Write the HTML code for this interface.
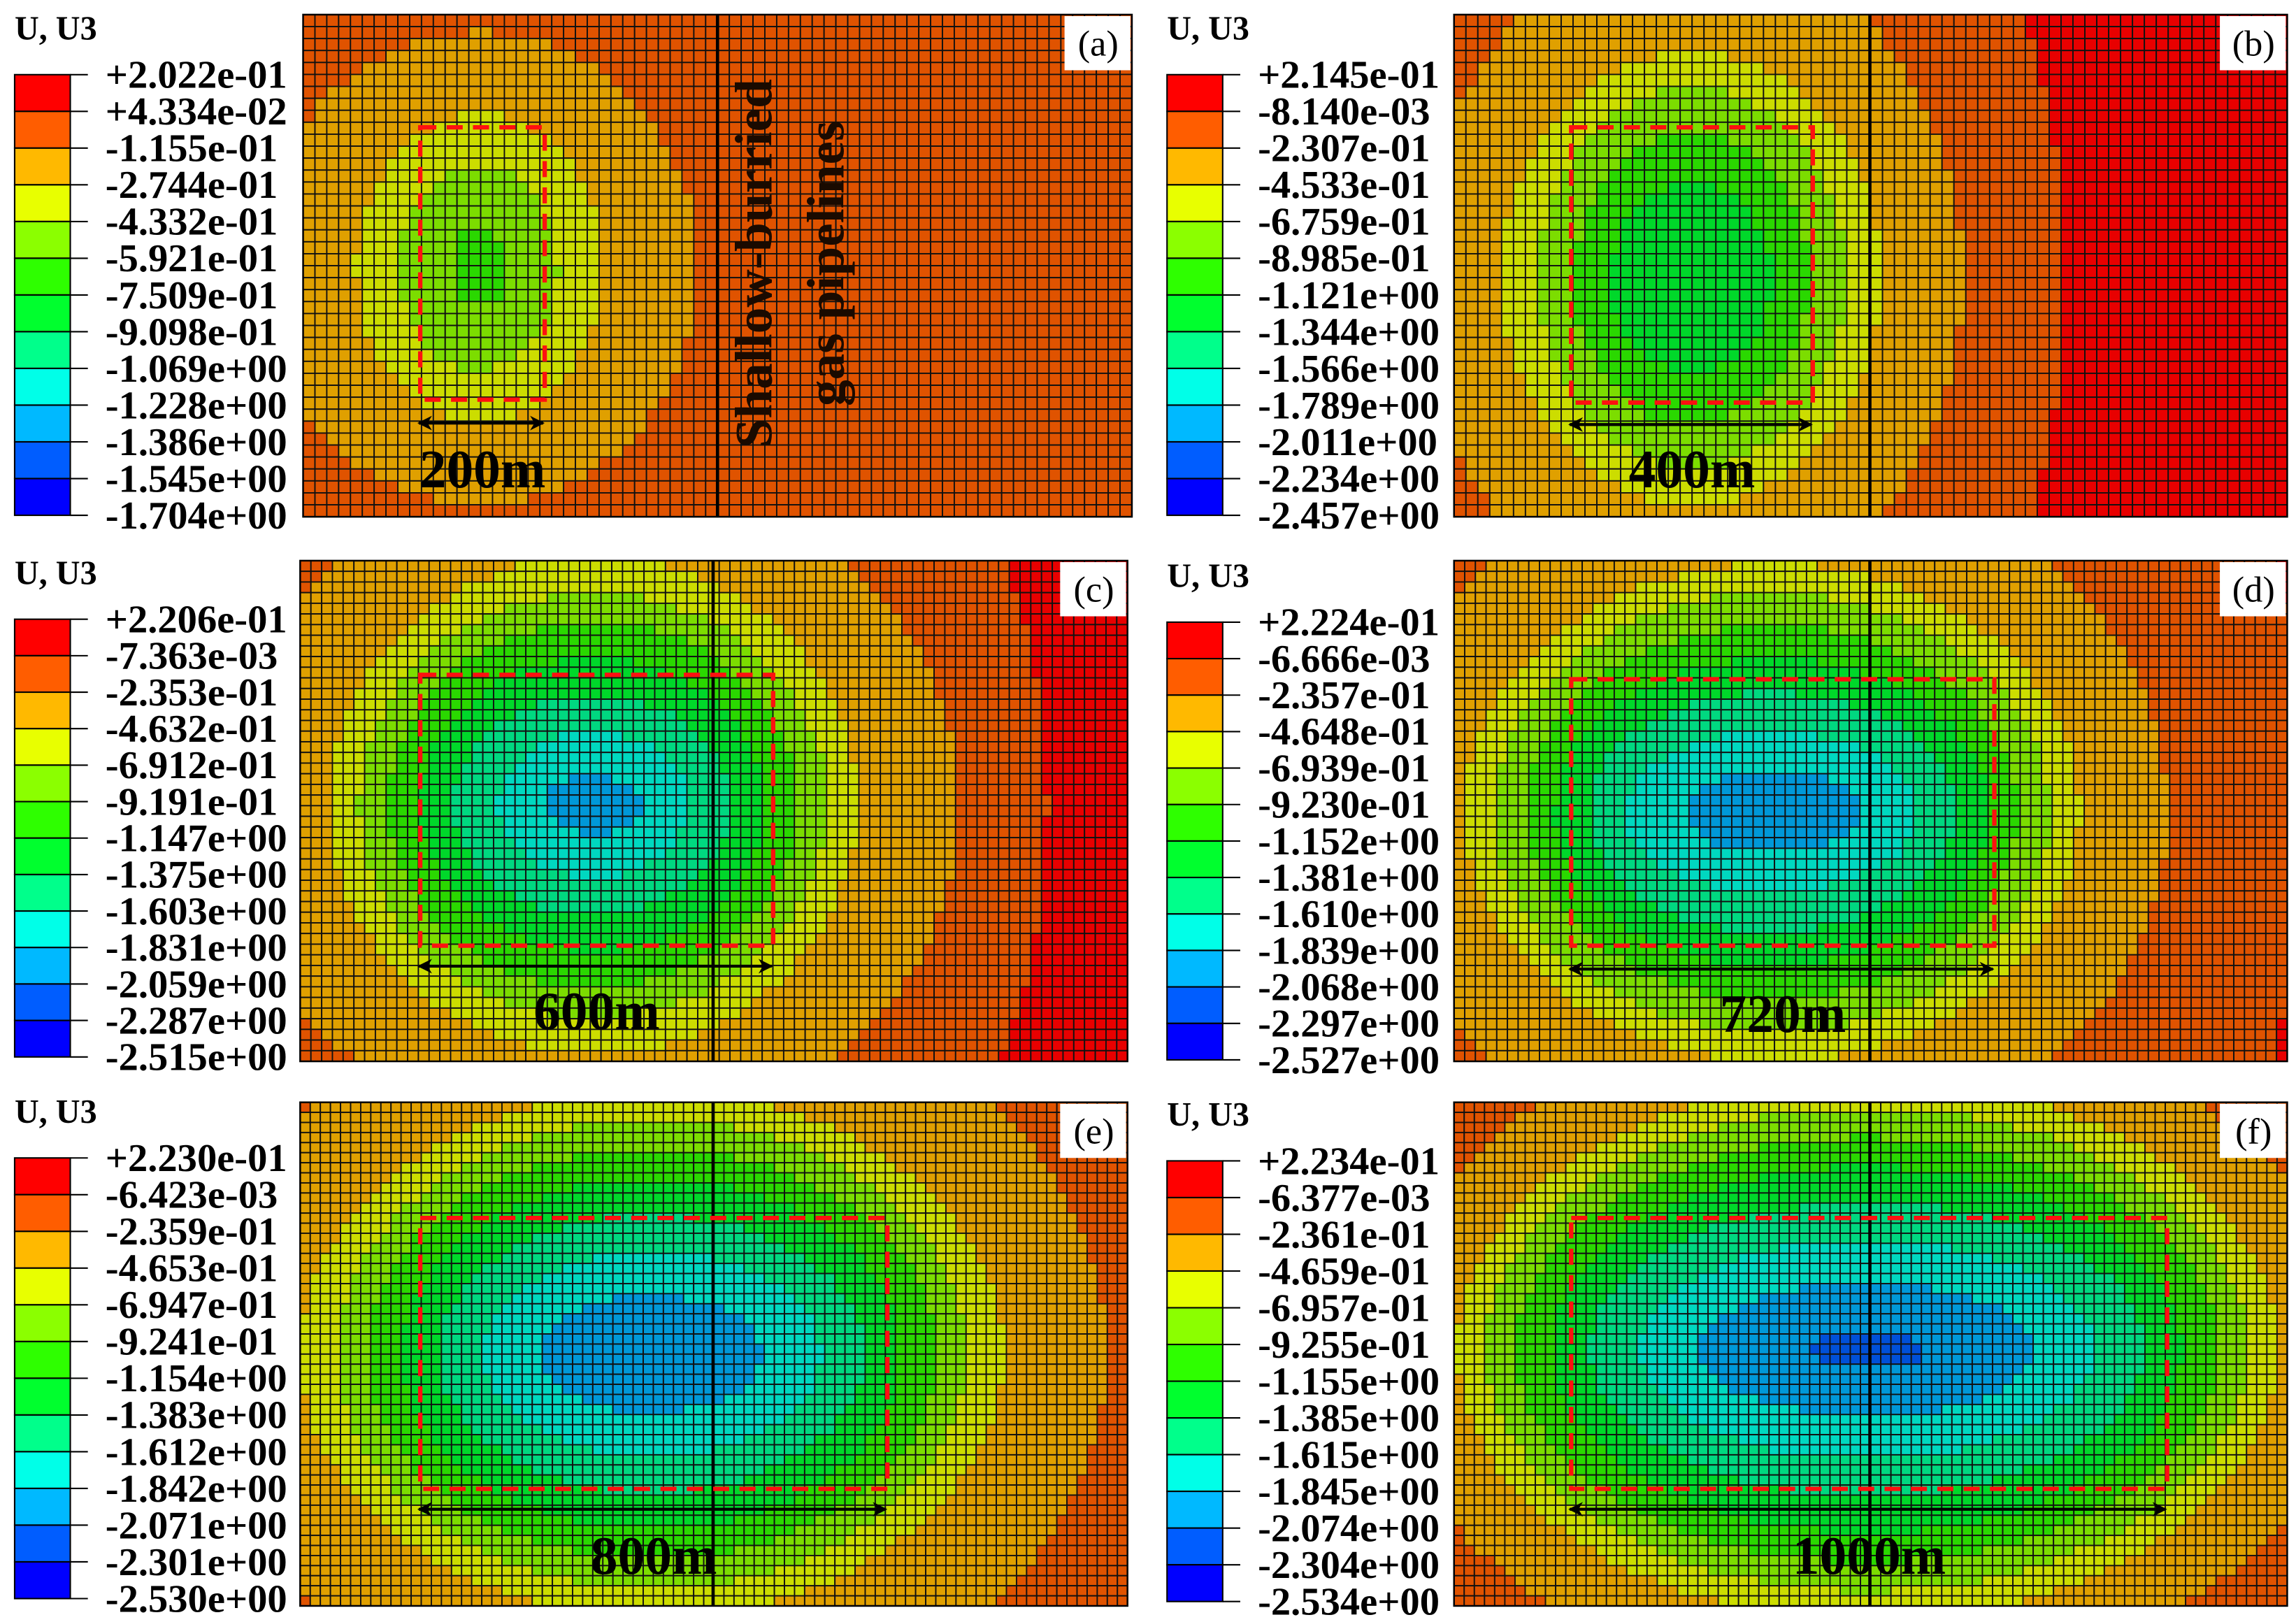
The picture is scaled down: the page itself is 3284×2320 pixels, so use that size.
<!DOCTYPE html>
<html><head><meta charset="utf-8"><style>html,body{margin:0;padding:0;background:#fff}svg{display:block}</style></head>
<body>
<svg id="fig" xmlns="http://www.w3.org/2000/svg" width="3284" height="2320" viewBox="0 0 1568 1108" preserveAspectRatio="none"></svg>
<script>
const panelIds = ['a','b','c','d','e','f'];
const legendA = ['+2.022e-01','+4.334e-02','-1.155e-01','-2.744e-01','-4.332e-01','-5.921e-01','-7.509e-01','-9.098e-01','-1.069e+00','-1.228e+00','-1.386e+00','-1.545e+00','-1.704e+00'];
const legendB = ['+2.145e-01','-8.140e-03','-2.307e-01','-4.533e-01','-6.759e-01','-8.985e-01','-1.121e+00','-1.344e+00','-1.566e+00','-1.789e+00','-2.011e+00','-2.234e+00','-2.457e+00'];
const legendC = ['+2.206e-01','-7.363e-03','-2.353e-01','-4.632e-01','-6.912e-01','-9.191e-01','-1.147e+00','-1.375e+00','-1.603e+00','-1.831e+00','-2.059e+00','-2.287e+00','-2.515e+00'];
const legendD = ['+2.224e-01','-6.666e-03','-2.357e-01','-4.648e-01','-6.939e-01','-9.230e-01','-1.152e+00','-1.381e+00','-1.610e+00','-1.839e+00','-2.068e+00','-2.297e+00','-2.527e+00'];
const legendE = ['+2.230e-01','-6.423e-03','-2.359e-01','-4.653e-01','-6.947e-01','-9.241e-01','-1.154e+00','-1.383e+00','-1.612e+00','-1.842e+00','-2.071e+00','-2.301e+00','-2.530e+00'];
const legendF = ['+2.234e-01','-6.377e-03','-2.361e-01','-4.659e-01','-6.957e-01','-9.255e-01','-1.155e+00','-1.385e+00','-1.615e+00','-1.845e+00','-2.074e+00','-2.304e+00','-2.534e+00'];
const legends = [legendA, legendB, legendC, legendD, legendE, legendF];
const spanLabels = ['200m','400m','600m','720m','800m','1000m'];
const bandRxA = [9999,150,84,54,19];
const bandRyA = [9999,161,105,70,27];
const bandRxB = [255,185,130,105,80,55];
const bandRyB = [400,230,155,130,100,65];
const bandRxC = [310,250,180,160,140,118,95,65,33];
const bandRyC = [400,230,170,145,125,100,75,50,20];
const bandRxD = [365,270,210,190,168,148,125,100,60];
const bandRyD = [480,240,170,150,128,105,82,55,28];
const bandRxE = [9999,310,240,215,195,170,145,115,75];
const bandRyE = [9999,260,180,160,140,120,95,70,40];
const bandRxF = [9999,330,280,260,240,215,190,155,115,40];
const bandRyF = [9999,230,185,165,145,125,100,75,45,12];
const bandRx = [bandRxA,bandRxB,bandRxC,bandRxD,bandRxE,bandRxF];
const bandRy = [bandRyA,bandRyB,bandRyC,bandRyD,bandRyE,bandRyF];
const centerX = [327,1155,405,1210,445,1275];
const centerY = [183,190,550,555,925,922];

const legendColors = ['#FF0000','#FF5D00','#FFB900','#E8FF00','#8BFF00','#2EFF00','#00FF2E','#00FF8B','#00FFE8','#00B9FF','#005DFF','#0000FF'];
const cellColors = ['#E80000','#E05300','#E0A000','#CCDD00','#7CDD00','#2AD800','#00D82A','#00D880','#00D8C0','#0098D8','#0050D8','#0000D8'];

const plotX=[207,993,205,993,205,993], plotY=[10,10,383,383,753,753], plotW=[566,569,565,569,565,569], plotH=[343,343,342,342,344,344];
const cellSize=[8.1,8.1,7.3,7.3,6.9,6.9];
const legX=[10,797,10,797,10,797], barTop=[51,51,423,425,791,793], barBot=[352,352,722,724,1092,1094];
const pipeX=[490,1277,487,1277,487,1277];
const boxX0=[287,1073,287,1073,287,1073], boxX1=[372,1238,528,1362,606,1480], boxY0=[87,87,461,464,832,832], boxY1=[273,275,646,646,1017,1017];
const arrowY=[289,290,660,662,1031,1031], labY=[333,333,703,705,1075,1075];

const NS='http://www.w3.org/2000/svg';
const svg=document.getElementById('fig');
function mk(tag, attrs, parent){const e=document.createElementNS(NS,tag);for(const k in attrs)e.setAttribute(k,attrs[k]);(parent||svg).appendChild(e);return e;}
const defs=mk('defs',{});
const mk1=mk('marker',{id:'ah',viewBox:'0 0 10 10',refX:'9',refY:'5',markerWidth:'5',markerHeight:'5',orient:'auto-start-reverse'},defs);
mk('path',{d:'M0,0 L10,5 L0,10 L3,5 Z',fill:'#000'},mk1);

function bandAt(p,x,y){
  let b=1;const rx=bandRx[p],ry=bandRy[p];
  for(let i=0;i<rx.length;i++){const dx=(x-centerX[p])/rx[i],dy=(y-centerY[p])/ry[i];if(dx*dx+dy*dy<=1)b=i+2;}
  return b;
}

for(let p=0;p<6;p++){
  const g=mk('g',{});
  
  
  const t=mk('text',{x:legX[p],y:barTop[p]-24,'font-family':'"Liberation Serif",serif','font-weight':'bold','font-size':'23',fill:'#000'},g);
  t.textContent='U, U3';
  
  
  const bh=(barBot[p]-barTop[p])/12;
  for(let i=0;i<12;i++){
    const r=mk('rect',{x:legX[p],y:barTop[p]+i*bh,width:38,height:bh,fill:legendColors[i],stroke:'#000','stroke-width':1},g);
    
    
  }
  for(let i=0;i<13;i++){
    const yy=barTop[p]+i*bh;
    mk('line',{x1:legX[p]+38,x2:legX[p]+50,y1:yy,y2:yy,stroke:'#000','stroke-width':1},g);
    const lt=mk('text',{x:legX[p]+62,y:yy+9,'font-family':'"Liberation Serif",serif','font-weight':'bold','font-size':'27',fill:'#000'},g);
    lt.textContent=legends[p][i];
    
    
  }
  const cg=mk('g',{stroke:'#111','stroke-width':'0.9'},g);
  
  
  const nx=Math.round(plotW[p]/cellSize[p]), ny=Math.round(plotH[p]/cellSize[p]);
  const cw=plotW[p]/nx, ch=plotH[p]/ny;
  for(let j=0;j<ny;j++)for(let i=0;i<nx;i++){
    const x=plotX[p]+i*cw,y=plotY[p]+j*ch;
    const b=bandAt(p,x+cw/2,y+ch/2);
    const c=mk('rect',{x:x.toFixed(2),y:y.toFixed(2),width:cw.toFixed(2),height:ch.toFixed(2),fill:cellColors[b-1]},cg);
    
    
  }
  mk('rect',{x:plotX[p],y:plotY[p],width:plotW[p],height:plotH[p],fill:'none',stroke:'#000','stroke-width':1.2},g);
  const pl=mk('line',{x1:pipeX[p],x2:pipeX[p],y1:plotY[p],y2:plotY[p]+plotH[p],stroke:'#000','stroke-width':2.2},g);
  
  
  const db=mk('rect',{x:boxX0[p],y:boxY0[p],width:boxX1[p]-boxX0[p],height:boxY1[p]-boxY0[p],fill:'none',stroke:'#FF1010','stroke-width':3,'stroke-dasharray':'11 7'},g);
  
  
  const ar=mk('line',{x1:boxX0[p]-1,x2:boxX1[p]-1,y1:arrowY[p],y2:arrowY[p],stroke:'#000','stroke-width':2,'marker-start':'url(#ah)','marker-end':'url(#ah)'},g);
  
  
  const sl=mk('text',{x:(boxX0[p]+boxX1[p])/2,y:labY[p],'text-anchor':'middle','font-family':'"Liberation Serif",serif','font-weight':'bold','font-size':'37',fill:'#000'},g);
  sl.textContent=spanLabels[p];
  
  
  const tb=mk('rect',{x:plotX[p]+plotW[p]-46,y:plotY[p]+1,width:45,height:37,fill:'#fff'},g);
  
  
  const tt=mk('text',{x:plotX[p]+plotW[p]-23,y:plotY[p]+28,'text-anchor':'middle','font-family':'"Liberation Serif",serif','font-size':'25',fill:'#000'},g);
  tt.textContent='('+panelIds[p]+')';
  
  
}
const a1=mk('text',{x:0,y:0,transform:'translate(527,180) rotate(-90)','text-anchor':'middle','font-family':'"Liberation Serif",serif','font-weight':'bold','font-size':'36',fill:'#1a0a00'});
a1.textContent='Shallow-burried';


const a2=mk('text',{x:0,y:0,transform:'translate(576,180) rotate(-90)','text-anchor':'middle','font-family':'"Liberation Serif",serif','font-weight':'bold','font-size':'36',fill:'#1a0a00'});
a2.textContent='gas pipelines';


</script>
</body></html>
